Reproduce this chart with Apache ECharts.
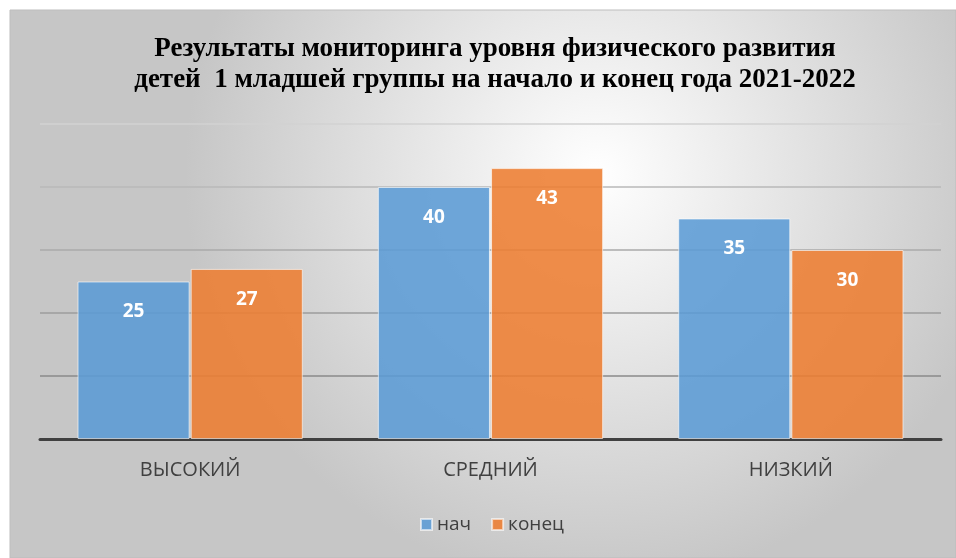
<!DOCTYPE html>
<html>
<head>
<meta charset="utf-8">
<script src="https://cdn.jsdelivr.net/npm/echarts@6/dist/echarts.min.js"></script>
<style>
  html, body { margin: 0; padding: 0; background: #fff; }
  #chart { width: 956px; height: 558px; }
</style>
</head>
<body>
<div id="chart"></div>
<script>
const categories = ['ВЫСОКИЙ', 'СРЕДНИЙ', 'НИЗКИЙ'];
const startValues = [25, 40, 35];
const endValues = [27, 43, 30];
const seriesNames = ['нач', 'конец'];

const chart = echarts.init(document.getElementById('chart'));

const labelStyle = {
  show: true,
  position: 'insideTop',
  distance: 21,
  color: '#fff',
  fontFamily: 'Open Sans',
  fontWeight: 'bold',
  fontSize: 19,
};

chart.setOption({
  animation: false,
  graphic: [
    {
      type: 'rect',
      z: -10,
      silent: true,
      shape: { x: 10, y: 10, width: 946, height: 548 },
      style: {
        fill: new echarts.graphic.RadialGradient(0.62, 0.3, 0.75, [
          { offset: 0, color: '#ffffff' },
          { offset: 1, color: '#c6c6c6' },
        ]),
        stroke: '#bdbdbd',
        lineWidth: 1,
      },
    },
  ],
  title: {
    text: 'Результаты мониторинга уровня физического развития\nдетей  1 младшей группы на начало и конец года 2021-2022',
    left: 490,
    textAlign: 'center',
    top: 29,
    textStyle: {
      fontFamily: 'Liberation Serif',
      fontWeight: 'bold',
      fontSize: 27,
      lineHeight: 31,
      color: '#000',
    },
  },
  legend: {
    data: seriesNames,
    left: 415,
    top: 510,
    icon: 'rect',
    itemWidth: 11,
    itemHeight: 11,
    itemGap: 20,
    textStyle: { fontFamily: 'Open Sans', fontSize: 19, color: '#404040' },
  },
  grid: { left: 40, right: 15, top: 124, bottom: 119 },
  xAxis: {
    type: 'category',
    data: categories,
    axisLine: { lineStyle: { color: '#404040', width: 3 } },
    axisTick: { show: false },
    axisLabel: {
      fontFamily: 'Open Sans',
      fontSize: 20,
      color: '#404040',
      margin: 21,
    },
  },
  yAxis: {
    type: 'value',
    min: 0,
    max: 50,
    interval: 10,
    axisLabel: { show: false },
    axisLine: { show: false },
    axisTick: { show: false },
    splitLine: {
      lineStyle: {
        color: ['#888888', '#8a8a8a', '#9c9c9c', '#aaaaaa', '#b8b8b8', '#d2d2d2'],
        width: 1.5,
      },
    },
  },
  series: [
    {
      name: seriesNames[0],
      type: 'bar',
      data: startValues,
      barCategoryGap: '25%',
      barGap: '1%',
      itemStyle: {
        color: 'rgba(91,155,213,0.88)',
        borderColor: 'rgba(255,255,255,0.6)',
        borderWidth: 1,
      },
      label: labelStyle,
    },
    {
      name: seriesNames[1],
      type: 'bar',
      data: endValues,
      barCategoryGap: '25%',
      barGap: '1%',
      itemStyle: {
        color: 'rgba(237,125,49,0.88)',
        borderColor: 'rgba(255,255,255,0.6)',
        borderWidth: 1,
      },
      label: labelStyle,
    },
  ],
});
</script>
</body>
</html>
